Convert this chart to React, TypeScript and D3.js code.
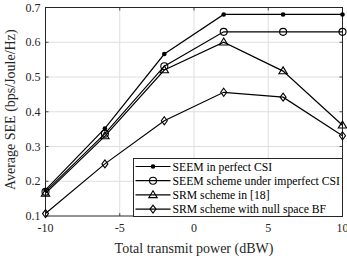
import { useEffect, useRef } from "react";
import * as d3 from "d3";

const powers = [-10, -6, -2, 2, 6, 10];
const seemPerfect = [0.175, 0.352, 0.566, 0.68, 0.68, 0.68];
const seemImperfect = [0.17, 0.337, 0.531, 0.63, 0.63, 0.63];
const srmRef = [0.165, 0.33, 0.52, 0.6, 0.517, 0.361];
const srmNull = [0.107, 0.25, 0.374, 0.456, 0.442, 0.331];
const xTicks = [-10, -5, 0, 5, 10];
const yTicks = [0.1, 0.2, 0.3, 0.4, 0.5, 0.6, 0.7];

const seriesList = [
  { name: "SEEM in perfect CSI", values: seemPerfect, marker: "dot" },
  { name: "SEEM scheme under imperfect CSI", values: seemImperfect, marker: "circle" },
  { name: "SRM scheme in [18]", values: srmRef, marker: "triangle" },
  { name: "SRM scheme with null space BF", values: srmNull, marker: "diamond" },
];

const W = 347;
const H = 259;
const m = { left: 45.5, right: 4.5, top: 7.5, bottom: 43 };

function drawMarker(g: d3.Selection<SVGGElement, unknown, null, undefined>, kind: string, x: number, y: number) {
  if (kind === "dot") {
    g.append("circle").attr("cx", x).attr("cy", y).attr("r", 2.3).attr("fill", "#000");
  } else if (kind === "circle") {
    g.append("circle").attr("cx", x).attr("cy", y).attr("r", 3.5).attr("fill", "none").attr("stroke", "#000").attr("stroke-width", 1.1);
  } else if (kind === "triangle") {
    const s = 4.2;
    g.append("path")
      .attr("d", `M${x},${y - s}L${x + s},${y + s * 0.65}L${x - s},${y + s * 0.65}Z`)
      .attr("fill", "none").attr("stroke", "#000").attr("stroke-width", 1.1);
  } else {
    const s = 4;
    g.append("path")
      .attr("d", `M${x},${y - s}L${x + s * 0.75},${y}L${x},${y + s}L${x - s * 0.75},${y}Z`)
      .attr("fill", "none").attr("stroke", "#000").attr("stroke-width", 1.1);
  }
}

function Chart() {
  const ref = useRef<SVGSVGElement | null>(null);

  useEffect(() => {
    if (!ref.current) return;
    const svg = d3.select(ref.current);
    svg.selectAll("*").remove();
    const font = "'Liberation Serif', 'Times New Roman', serif";

    const x = d3.scaleLinear().domain([-10, 10]).range([m.left, W - m.right]);
    const y = d3.scaleLinear().domain([0.1, 0.7]).range([H - m.bottom, m.top]);

    svg.append("rect").attr("width", W).attr("height", H).attr("fill", "#fff");

    // grid
    const grid = svg.append("g").attr("stroke", "#dedede").attr("stroke-width", 1);
    xTicks.slice(1, -1).forEach((t) => {
      grid.append("line").attr("x1", x(t)).attr("x2", x(t)).attr("y1", y(0.1)).attr("y2", y(0.7));
    });
    yTicks.slice(1, -1).forEach((t) => {
      grid.append("line").attr("x1", x(-10)).attr("x2", x(10)).attr("y1", y(t)).attr("y2", y(t));
    });

    // ticks (inside)
    const ticks = svg.append("g").attr("stroke", "#262626").attr("stroke-width", 0.8);
    xTicks.forEach((t) => {
      ticks.append("line").attr("x1", x(t)).attr("x2", x(t)).attr("y1", y(0.1)).attr("y2", y(0.1) - 3);
      ticks.append("line").attr("x1", x(t)).attr("x2", x(t)).attr("y1", y(0.7)).attr("y2", y(0.7) + 3);
    });
    yTicks.forEach((t) => {
      ticks.append("line").attr("x1", x(-10)).attr("x2", x(-10) + 3).attr("y1", y(t)).attr("y2", y(t));
      ticks.append("line").attr("x1", x(10)).attr("x2", x(10) - 3).attr("y1", y(t)).attr("y2", y(t));
    });

    // box
    svg.append("rect")
      .attr("x", x(-10)).attr("y", y(0.7))
      .attr("width", x(10) - x(-10)).attr("height", y(0.1) - y(0.7))
      .attr("fill", "none").attr("stroke", "#262626").attr("stroke-width", 1);

    // tick labels
    const labels = svg.append("g").attr("font-family", font).attr("font-size", 12).attr("fill", "#262626");
    xTicks.forEach((t) => {
      labels.append("text").attr("x", x(t)).attr("y", y(0.1) + 15.5).attr("text-anchor", "middle").text(String(t));
    });
    yTicks.forEach((t) => {
      labels.append("text").attr("x", x(-10) - 5).attr("y", y(t) + 4).attr("text-anchor", "end").text(t.toFixed(1));
    });

    labels.append("text")
      .attr("x", (x(-10) + x(10)) / 2).attr("y", H - 6)
      .attr("font-size", 14)
      .attr("text-anchor", "middle").text("Total transmit power (dBW)");
    labels.append("text")
      .attr("transform", `translate(15,${(y(0.1) + y(0.7)) / 2 - 2}) rotate(-90)`)
      .attr("font-size", 14)
      .attr("text-anchor", "middle").text("Average SEE (bps/Joule/Hz)");

    // series
    const line = d3.line<number>().x((_, i) => x(powers[i])).y((d) => y(d));
    seriesList.forEach((s) => {
      svg.append("path").attr("d", line(s.values)).attr("fill", "none").attr("stroke", "#000").attr("stroke-width", 1.2);
      const g = svg.append("g");
      s.values.forEach((v, i) => drawMarker(g, s.marker, x(powers[i]), y(v)));
    });

    // legend
    const lx = 133.5;
    const ly = 158.5;
    const lw = x(10) - lx;
    const lh = 58;
    const lg = svg.append("g");
    lg.append("rect").attr("x", lx).attr("y", ly).attr("width", lw).attr("height", lh)
      .attr("fill", "#fff").attr("stroke", "#262626").attr("stroke-width", 1);
    seriesList.forEach((s, i) => {
      const yy = ly + 8 + i * 14.2;
      lg.append("line").attr("x1", lx + 2).attr("x2", lx + 37).attr("y1", yy).attr("y2", yy)
        .attr("stroke", "#000").attr("stroke-width", 1.2);
      drawMarker(lg, s.marker, lx + 19.5, yy);
      lg.append("text").attr("x", lx + 39).attr("y", yy + 4)
        .attr("font-family", font).attr("font-size", 11.7).attr("fill", "#000").text(s.name);
    });
  }, []);

  return <svg ref={ref} width={W} height={H} style={{ display: "block" }} />;
}

export default function App() {
  return (
    <div style={{ position: "absolute", left: 0, top: 0 }}>
      <Chart />
    </div>
  );
}
